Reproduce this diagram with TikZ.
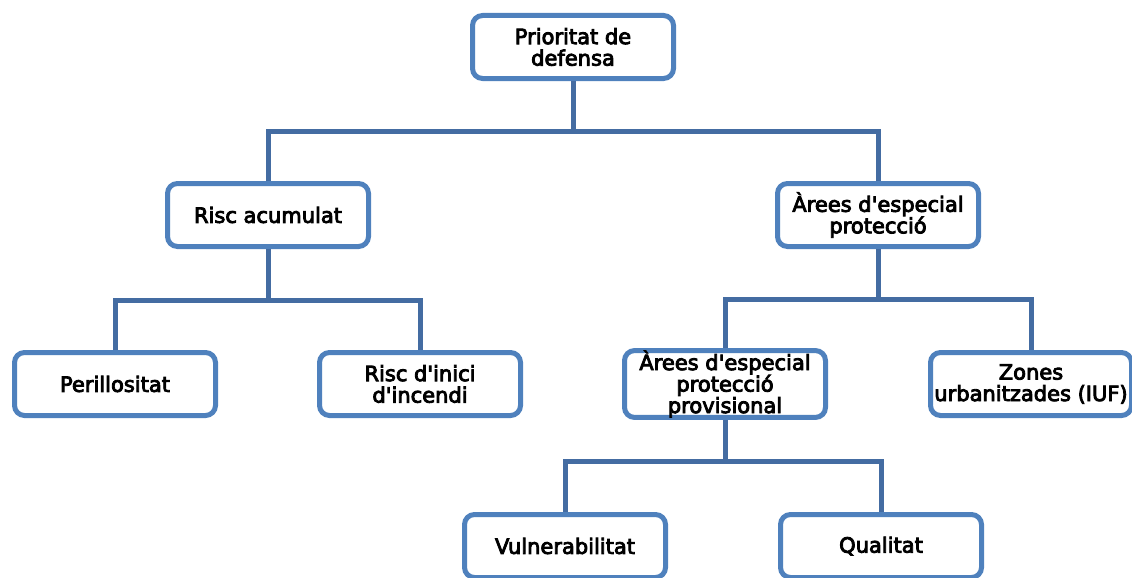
\documentclass[tikz,border=0pt]{standalone}
\usepackage{fontspec}
\setmainfont{DejaVu Sans}
\newfontfamily\boxfont{DejaVu Sans}[FakeBold=4]
\newcommand{\apos}{\textquotesingle}
\definecolor{boxblue}{RGB}{79,129,189}
\definecolor{connblue}{RGB}{68,108,162}
\begin{document}
\begin{tikzpicture}[x=1pt,y=-1pt,
  box/.style={draw=boxblue, fill=white, line width=5pt, rounded corners=10pt,
    minimum width=201pt, minimum height=63pt, inner sep=0pt,
    align=center,
    font=\boxfont\fontsize{21pt}{21.5pt}\selectfont},
  conn/.style={draw=connblue, line width=5pt}]
\useasboundingbox (0,0) rectangle (1132,578);
\coordinate (j1) at (573,131);
\coordinate (j2) at (268,300);
\coordinate (j3) at (878,299);
\coordinate (j4) at (725,461);
\node[box] (top) at (573,47) {Prioritat de\\defensa};
\node[box] (risc) at (268,215) {Risc acumulat};
\node[box] (arees) at (878,215) {Àrees d\apos especial\\protecció};
\node[box] (per) at (115,384) {Perillositat};
\node[box] (inici) at (420,384) {Risc d\apos inici\\d\apos incendi};
\node[box] (prov) at (725,384) {Àrees d\apos especial\\protecció\\provisional};
\node[box] (zones) at (1031,384) {Zones\\urbanitzades (IUF)};
\node[box] (vul) at (565,546) {Vulnerabilitat};
\node[box] (qual) at (881,546) {Qualitat};
\draw[conn] (top.south) -- (j1);
\draw[conn] (risc.north) |- (j1) -| (arees.north);
\draw[conn] (risc.south) -- (j2);
\draw[conn] (per.north) |- (j2) -| (inici.north);
\draw[conn] (arees.south) -- (j3);
\draw[conn] (prov.north) |- (j3) -| (zones.north);
\draw[conn] (prov.south) -- (j4);
\draw[conn] (vul.north) |- (j4) -| (qual.north);
\end{tikzpicture}
\end{document}
